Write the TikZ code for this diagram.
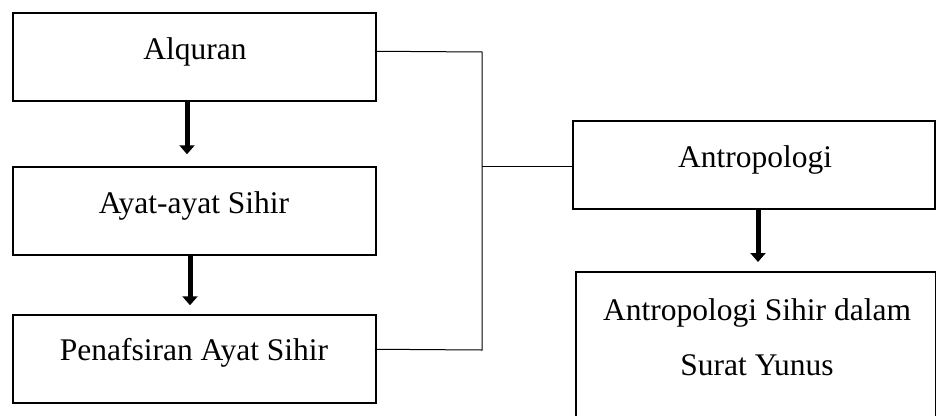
\documentclass[tikz,border=0pt]{standalone}
\usepackage{fontspec}
\setmainfont{Liberation Serif}
\usetikzlibrary{arrows.meta,calc}
\begin{document}
\begin{tikzpicture}[x=1pt,y=-1pt,
  box/.style={draw=black,line width=1.5pt,minimum width=363pt,minimum height=88pt,inner sep=0pt},
  lbl/.style={anchor=base,inner sep=0pt,font=\fontsize{31.5}{36}\selectfont},
  conn/.style={draw=black,line width=1pt},
  bigarrow/.style={draw=black,line width=5pt,-{Triangle[width=15pt,length=9pt]}}]
\useasboundingbox (0,0) rectangle (936,415);
\clip (0,0) rectangle (936,415);
\node[box] (alq) at (194.5,57) {};
\node[box] (ayat) at (194.5,211) {};
\node[box] (pen) at (194.5,359) {};
\node[box,minimum width=362pt] (ant) at (754,165) {};
\node[box,minimum width=360pt,minimum height=180pt,anchor=north west] (ans) at (575,271) {};
\node[lbl] (talq) at (195,59) {Alquran};
\node[lbl] (tayat) at (194,213) {Ayat-ayat Sihir};
\node[lbl] (tpen) at (194,360) {Penafsiran Ayat Sihir};
\node[lbl] (tant) at (755,167) {Antropologi};
\node[lbl] (tans1) at (757,320) {Antropologi Sihir dalam};
\node[lbl] (tans2) at (757,375) {Surat Yunus};
\coordinate (j1) at (482,52);
\coordinate (j2) at (482,350);
\coordinate (j3) at (482,166);
\draw[conn] ($(alq.north east)+(-2,39)$) -- (j1) -- (j2) -- ($(pen.north east)+(-2,35)$);
\draw[conn] (j3) -- (ant.west |- j3);
\draw[bigarrow] (alq.south -| 187,0) -- ($(ayat.north -| 187,0)+(0,-12)$);
\draw[bigarrow] (ayat.south -| 190,0) -- ($(pen.north -| 190,0)+(0,-9)$);
\draw[bigarrow] (ant.south -| 758,0) -- ($(ans.north -| 758,0)+(0,-9)$);
\end{tikzpicture}
\end{document}
